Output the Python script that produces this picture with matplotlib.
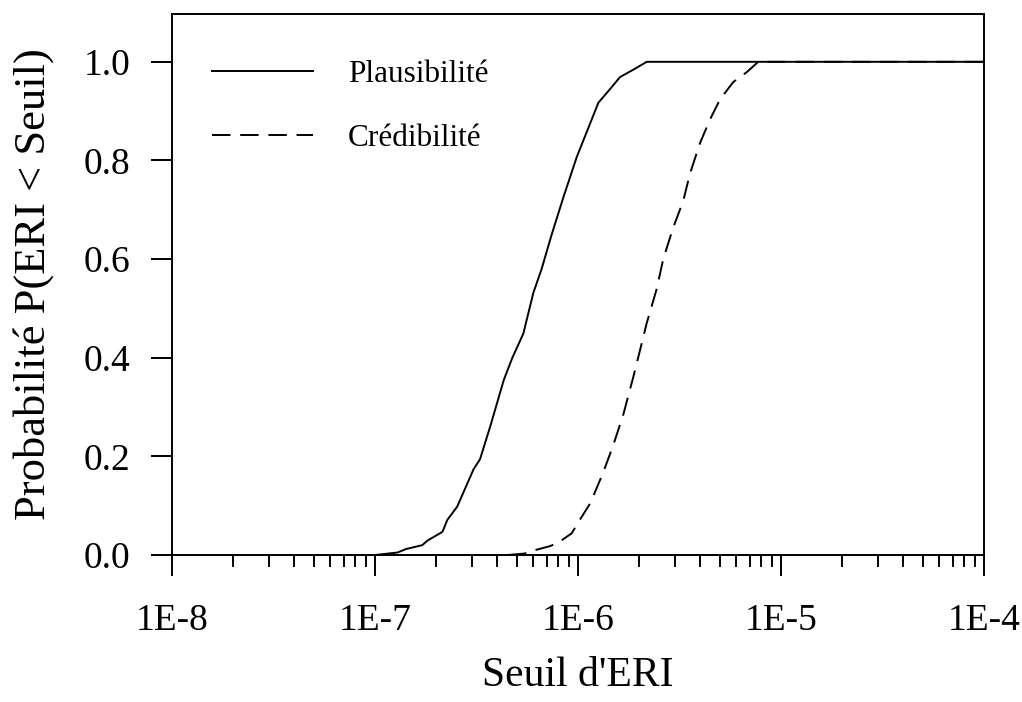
import matplotlib
matplotlib.use("Agg")
from matplotlib import pyplot as plt
from matplotlib.ticker import FixedLocator, LogLocator, NullFormatter

plt.rcParams['font.family'] = ['Liberation Serif', 'DejaVu Serif']

# seuils d'ERI et probabilites cumulees
plaus_x = [1.00e-7, 1.29e-7, 1.42e-7, 1.71e-7, 1.81e-7, 2.15e-7, 2.27e-7,
           2.54e-7, 3.06e-7, 3.29e-7, 3.71e-7, 4.31e-7, 4.75e-7, 5.38e-7,
           6.03e-7, 6.62e-7, 7.41e-7, 8.47e-7, 9.86e-7, 1.15e-6, 1.26e-6,
           1.44e-6, 1.61e-6, 1.91e-6, 2.18e-6, 1.00e-4]
plaus_p = [0.000, 0.005, 0.012, 0.020, 0.029, 0.047, 0.071,
           0.098, 0.174, 0.194, 0.263, 0.355, 0.400, 0.449,
           0.532, 0.580, 0.649, 0.725, 0.807, 0.876, 0.917,
           0.945, 0.969, 0.986, 1.000, 1.000]

cred_x = [4.52e-7, 5.47e-7, 6.03e-7, 7.28e-7, 8.00e-7, 9.31e-7, 1.02e-6,
          1.15e-6, 1.33e-6, 1.49e-6, 1.67e-6, 1.87e-6, 2.02e-6, 2.18e-6,
          2.44e-6, 2.63e-6, 2.94e-6, 3.30e-6, 3.56e-6, 3.99e-6, 4.47e-6,
          5.01e-6, 5.82e-6, 6.78e-6, 7.73e-6, 1.00e-4]
cred_p = [0.000, 0.003, 0.009, 0.018, 0.025, 0.044, 0.071,
          0.105, 0.167, 0.222, 0.284, 0.360, 0.415, 0.470,
          0.539, 0.600, 0.663, 0.718, 0.773, 0.835, 0.883,
          0.924, 0.959, 0.979, 1.000, 1.000]

series_names = ["Plausibilité", "Crédibilité"]
x_ticks = [1e-8, 1e-7, 1e-6, 1e-5, 1e-4]
x_labels = ["1E-8", "1E-7", "1E-6", "1E-5", "1E-4"]
y_ticks = [0.0, 0.2, 0.4, 0.6, 0.8, 1.0]
y_labels = ["0.0", "0.2", "0.4", "0.6", "0.8", "1.0"]

fig = plt.figure(figsize=(10.22, 7.02), dpi=100)
ax = fig.add_axes([0.1683, 0.2094, 0.7945, 0.7707])

ax.plot(plaus_x, plaus_p, color='black', lw=1.4, label=series_names[0])
ax.plot(cred_x, cred_p, color='black', lw=1.4, dashes=(9.5, 5),
        label=series_names[1])

ax.set_xscale('log')
ax.set_xlim(1e-8, 1e-4)
ax.set_ylim(0, 1.097)

ax.xaxis.set_major_locator(FixedLocator(x_ticks))
ax.set_xticklabels(x_labels)
ax.xaxis.set_minor_locator(LogLocator(base=10, subs=range(2, 10), numticks=20))
ax.xaxis.set_minor_formatter(NullFormatter())
ax.set_yticks(y_ticks)
ax.set_yticklabels(y_labels)

for s in ax.spines.values():
    s.set_linewidth(1.4)

ax.tick_params(axis='both', which='major', direction='out', length=15,
               width=1.4, labelsize=27)
ax.tick_params(axis='x', which='major', pad=20)
ax.tick_params(axis='y', which='major', pad=15)
ax.tick_params(axis='x', which='minor', direction='out', length=8.5,
               width=1.4)

ax.set_xlabel("Seuil d'ERI", fontsize=30, labelpad=13)
ax.set_ylabel("Probabilité P(ERI < Seuil)", fontsize=32, labelpad=21)

ax.legend(loc='upper left', bbox_to_anchor=(0.049, 0.9155), frameon=False,
          fontsize=22.5, handlelength=3.25, handletextpad=1.1,
          labelspacing=1.12, borderpad=0, borderaxespad=0)

fig.savefig("out.png", dpi=100)
